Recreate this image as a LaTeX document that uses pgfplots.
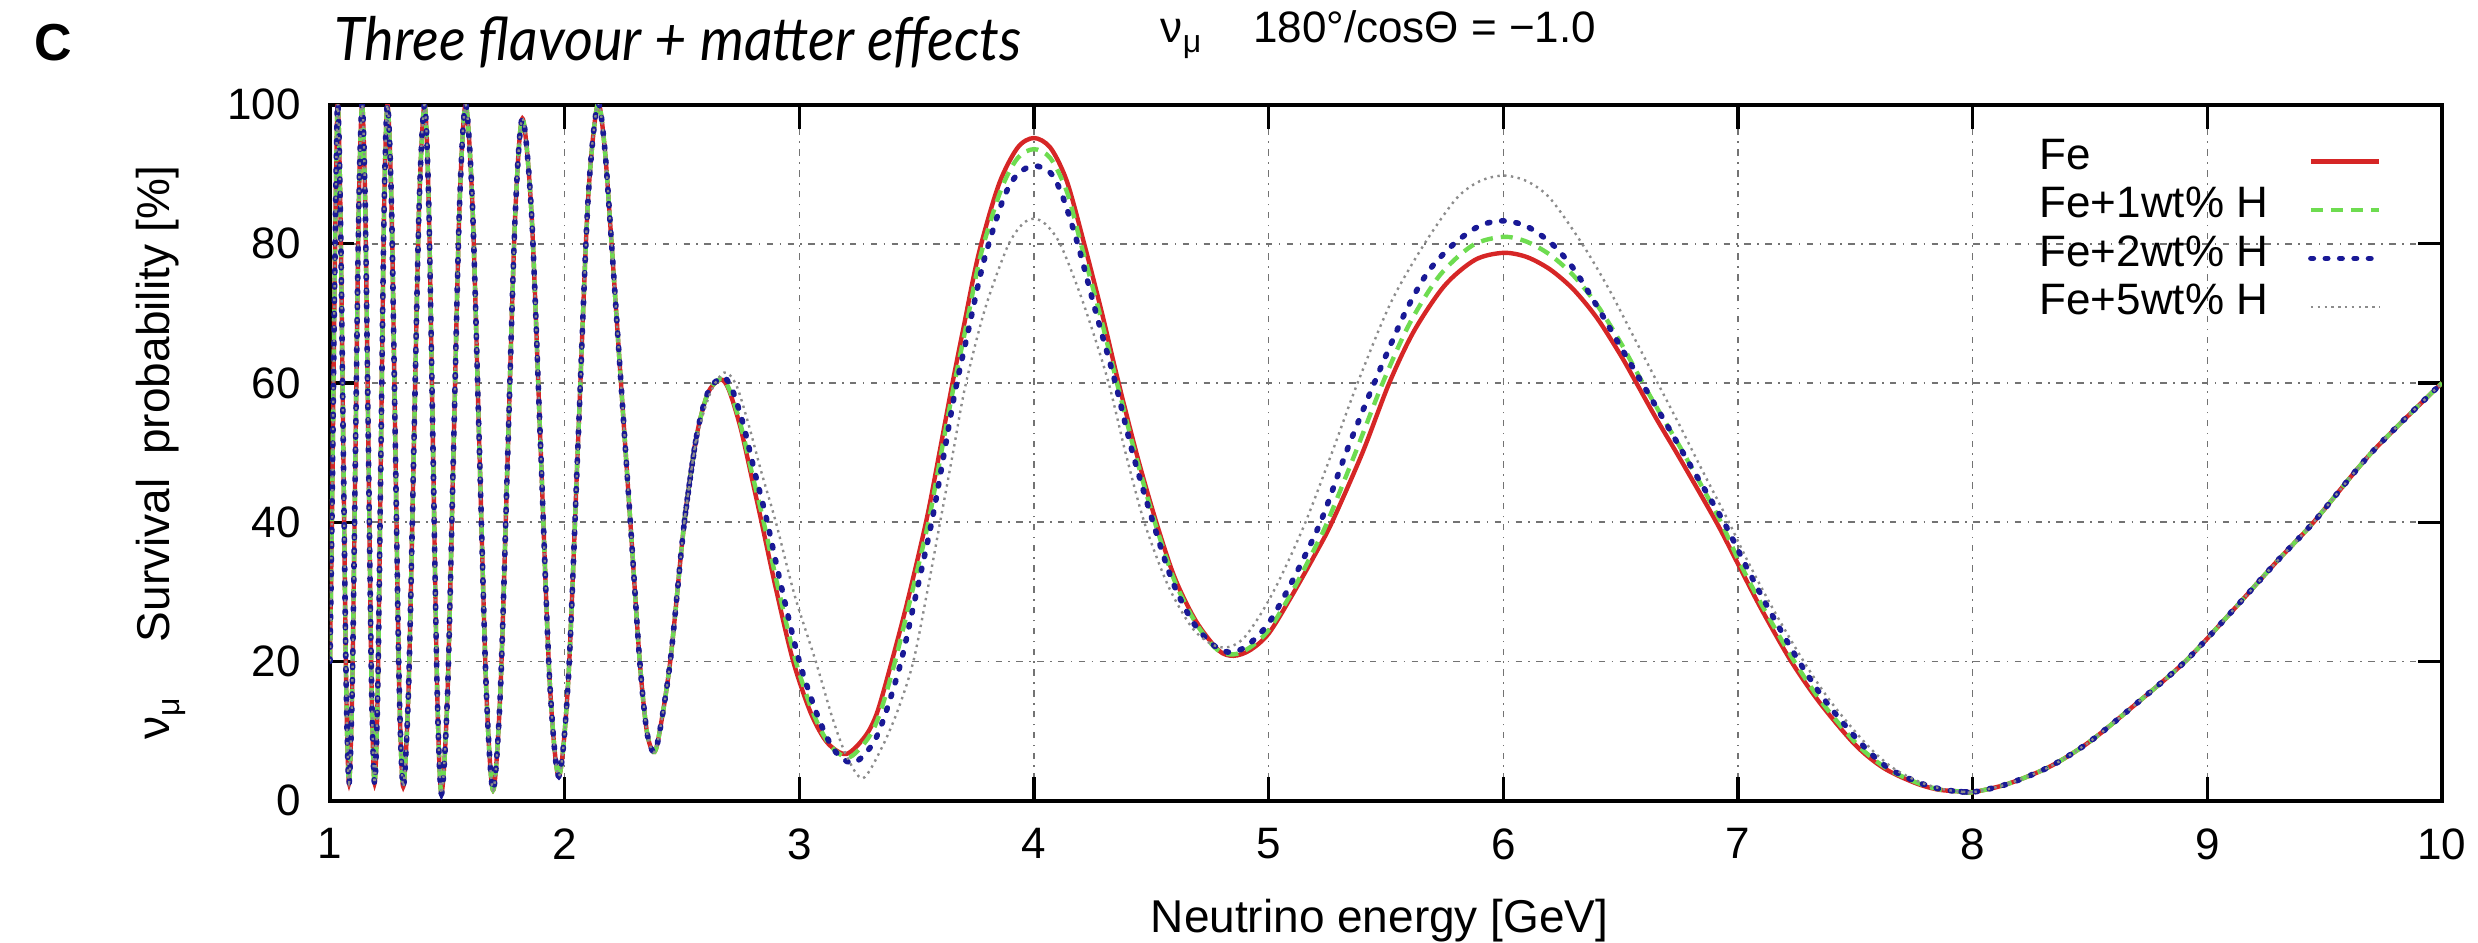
\documentclass[border=0pt]{standalone}
\usepackage{fontspec}
\setmainfont{Liberation Sans}
\newfontfamily\titlefont{Lato}
\usepackage{graphicx}
\usepackage{pgfplots}
\usepackage{pgfplotstable}
\pgfplotsset{compat=1.18}

\definecolor{cfe}{RGB}{214,38,38}
\definecolor{cone}{RGB}{110,220,80}
\definecolor{ctwo}{RGB}{25,25,150}
\definecolor{cfive}{RGB}{140,140,140}

% fast oscillations, all four curves coincide here
\pgfplotstableread{
E P
1.000 20
1.010 45
1.020 75
1.032 100
1.044 85.8
1.0565 51.3
1.069 16.7
1.081 2.5
1.095 16.7
1.109 51.3
1.123 85.8
1.137 100
1.150 85.8
1.1635 51.3
1.177 16.7
1.190 2.5
1.204 16.7
1.2175 51.3
1.231 85.8
1.245 100
1.262 85.7
1.2785 51
1.295 16.3
1.312 2
1.335 16.3
1.3575 51
1.380 85.7
1.403 100
1.421 85.5
1.439 50.5
1.457 15.5
1.475 1
1.501 15.5
1.5265 50.5
1.552 85.5
1.578 100
1.607 85.6
1.6365 50.8
1.666 15.9
1.695 1.5
1.726 15.6
1.7575 49.8
1.789 83.9
1.820 98
1.859 84.2
1.8975 50.8
1.936 17.3
1.975 3.5
2.016 17.6
2.0575 51.8
2.099 85.9
2.140 100
2.170 94
2.200 80
2.240 60
2.280 40
2.320 20
2.350 10
2.378 7
2.400 9
2.450 20
2.510 40
2.560 52
}\lowpart

% above 8 GeV the curves coincide again
\pgfplotstableread{
E P
7.950 1.3
8.000 1.2
8.150 2.4
8.330 4.9
8.500 8.5
8.700 14
8.906 20
9.100 27
9.300 34.5
9.453 40
9.700 50
10.00 60
}\highpart

\pgfplotstableread{
E P
2.510 40
2.560 52
2.610 58.5
2.665 60.5
2.700 59
2.750 53.5
2.800 46
2.836 40.5
2.900 30.5
2.974 20
3.050 12.5
3.120 8.3
3.200 6.7
3.280 9.2
3.330 12.5
3.386 19
3.460 28.5
3.543 40.5
3.600 50.5
3.650 59.5
3.700 68
3.764 78.5
3.850 88.5
3.930 93.8
4.000 95.2
4.070 93.8
4.140 89
4.214 80
4.290 70
4.357 60.5
4.440 49.5
4.521 40
4.600 32
4.690 25.8
4.786 21.6
4.850 20.8
4.920 21.6
5.000 24
5.100 29.5
5.200 35.5
5.270 40
5.400 50
5.514 60
5.620 67.5
5.750 74
5.880 77.7
6.000 78.7
6.100 78.1
6.200 76.3
6.300 73.4
6.400 69.3
6.500 64
6.564 60.2
6.650 55
6.750 49.3
6.908 40
7.000 34
7.100 27.5
7.227 20
7.350 14
7.500 8
7.620 4.7
7.750 2.6
7.850 1.6
7.950 1.3
8.000 1.2
}\midfe

\pgfplotstableread{
E P
2.510 40
2.560 52
2.610 58.5
2.665 60.6
2.700 59.2
2.750 54
2.800 46.8
2.845 40.5
2.910 30.5
2.985 20
3.060 12.5
3.130 8
3.210 6.2
3.290 8.8
3.340 12.2
3.400 19
3.470 28.5
3.550 40
3.605 50
3.655 59
3.710 68
3.774 78.5
3.860 87.8
3.930 92.3
4.000 93.6
4.070 92.3
4.140 87.5
4.200 80
4.280 70
4.350 60.5
4.430 50
4.515 40
4.600 31.5
4.690 25.5
4.780 21.7
4.850 21
4.920 22
5.000 24.5
5.100 30
5.200 36.5
5.250 40
5.370 50
5.486 60
5.600 68.5
5.730 75.5
5.870 79.8
6.000 81
6.100 80.3
6.200 78.4
6.300 75.4
6.400 71.2
6.500 65.8
6.586 60.5
6.650 56.7
6.770 49.8
6.920 40.5
7.010 34
7.110 27.6
7.240 20
7.360 14
7.510 8
7.630 4.7
7.760 2.6
7.860 1.6
7.950 1.3
8.000 1.2
}\midone

\pgfplotstableread{
E P
2.510 40
2.560 52
2.610 58.6
2.670 60.8
2.710 59.4
2.760 54.2
2.810 47.2
2.860 40.5
2.925 30.5
3.000 20
3.080 12
3.150 7.2
3.230 5.4
3.310 8
3.360 11.8
3.430 19.5
3.490 28.5
3.564 40
3.615 49.5
3.664 58.8
3.720 67.5
3.786 77.5
3.870 86.5
3.930 90
4.000 91.2
4.070 90.2
4.120 87
4.186 80
4.265 70
4.343 60.5
4.420 50
4.507 40
4.590 31.5
4.680 25.5
4.770 22.2
4.840 21.3
4.910 22.3
5.000 25.5
5.100 31.5
5.221 40
5.330 50
5.450 60
5.580 70
5.680 76
5.790 80
5.900 82.6
6.000 83.3
6.100 82.5
6.207 80
6.300 76.4
6.400 71
6.500 65.2
6.600 59.5
6.700 53.8
6.800 48
6.940 40
7.030 34
7.130 27.6
7.260 20
7.380 14
7.530 8
7.640 4.7
7.770 2.6
7.870 1.6
7.950 1.3
8.000 1.2
}\midtwo

\pgfplotstableread{
E P
2.510 40
2.560 51.5
2.620 58.5
2.680 61.5
2.730 59.8
2.780 54.5
2.840 47
2.900 40
2.980 29.5
3.070 20
3.140 12
3.200 6.5
3.270 3.2
3.350 7.5
3.420 13
3.486 20
3.545 30
3.600 40
3.655 50
3.707 59.5
3.790 70.5
3.886 79.5
3.950 82.8
4.000 83.6
4.050 82.8
4.114 79.8
4.210 71.5
4.314 60.5
4.390 50
4.470 40
4.570 31
4.670 25
4.750 22.6
4.820 22
4.890 23.2
4.970 27
5.050 32
5.157 40
5.270 50
5.379 60
5.520 71.5
5.664 80
5.800 86.5
5.900 89
6.000 89.8
6.100 89
6.200 86.5
6.336 80
6.450 73.5
6.550 67
6.650 60.5
6.750 54
6.850 47.3
6.957 40.3
7.040 34.5
7.150 27.5
7.280 20
7.400 14
7.550 8
7.660 4.7
7.780 2.6
7.880 1.6
7.950 1.3
8.000 1.2
}\midfive

\begin{document}
\begin{tikzpicture}[font=\fontsize{11}{13}\selectfont]
\path[use as bounding box] (0,0) rectangle (619.5pt,235.75pt);
\begin{axis}[
    at={(82.5pt,35.6pt)}, anchor=south west,
    scale only axis,
    width=528pt, height=174pt,
    xmin=1, xmax=10, ymin=0, ymax=100,
    xtick={1,2,...,10}, ytick={0,20,...,100},
    xtick pos=both, ytick pos=both,
    xticklabel pos=lower, yticklabel pos=left,
    tick align=inside,
    major tick length=6pt,
    tick style={black, line width=0.8pt},
    axis line style={black, line width=1pt},
    grid=major,
    major grid style={black!55, line width=0.4pt,
        dash pattern=on 1.6pt off 1.6pt on 0.4pt off 1.6pt},
    /pgf/number format/assume math mode=true,
    ticklabel style={font=\fontsize{11}{13}\selectfont},
    yticklabel style={xshift=-3.8pt},
    xticklabel style={yshift=-3.4pt},
    xlabel={Neutrino energy [GeV]},
    xlabel style={at={(axis description cs:0.497,-0.189)}, anchor=base,
        font=\fontsize{11.5}{13}\selectfont},
    ylabel={ν\raisebox{-0.4ex}{\fontsize{8}{9}\selectfont μ}\hspace{14pt}Survival\hspace{6pt}probability [\%]},
    ylabel style={at={(axis description cs:-0.076,0.50)}, anchor=base,
        font=\fontsize{11.5}{13}\selectfont},
    legend plot pos=right,
    legend cell align=left,
    legend style={at={(axis description cs:0.972,0.954)}, anchor=north east,
        draw=none, fill=none, inner sep=0pt, row sep=0pt,
        nodes={inner sep=0pt, text height=8pt, text depth=4.1pt},
        font=\fontsize{11}{13}\selectfont,
        /tikz/every odd column/.append style={column sep=10pt}},
    every axis plot/.append style={smooth},
]
% Fe
\addplot[cfe, line width=1.1pt, forget plot] table {\lowpart};
\addplot[cfe, line width=1.1pt] table {\midfe};
\addlegendentry{Fe}
\addplot[cfe, line width=1.1pt, forget plot] table {\highpart};
% Fe + 1 wt% H
\addplot[cone, line width=1.1pt, dash pattern=on 3pt off 2pt, forget plot] table {\lowpart};
\addplot[cone, line width=1.1pt, dash pattern=on 3pt off 2pt] table {\midone};
\addlegendentry{Fe+1wt\% H}
\addplot[cone, line width=1.1pt, dash pattern=on 3pt off 2pt, forget plot] table {\highpart};
% Fe + 2 wt% H
\addplot[ctwo, line width=1.4pt, line cap=round, dash pattern=on 0.6pt off 3pt, forget plot] table {\lowpart};
\addplot[ctwo, line width=1.4pt, line cap=round, dash pattern=on 0.6pt off 3pt] table {\midtwo};
\addlegendentry{Fe+2wt\% H}
\addplot[ctwo, line width=1.4pt, line cap=round, dash pattern=on 0.6pt off 3pt, forget plot] table {\highpart};
% Fe + 5 wt% H
\addplot[cfive, line width=0.6pt, dash pattern=on 0.6pt off 1.1pt, forget plot] table {\lowpart};
\addplot[cfive, line width=0.6pt, dash pattern=on 0.6pt off 1.1pt] table {\midfive};
\addlegendentry{Fe+5wt\% H}
\addplot[cfive, line width=0.6pt, dash pattern=on 0.6pt off 1.1pt, forget plot] table {\highpart};
\end{axis}
\node[anchor=base west, font=\fontsize{13}{15}\bfseries] at (5pt,220.5pt) {C};
\node[anchor=base west, inner sep=0pt] at (83.5pt,220.5pt)
    {\scalebox{0.93}[1]{\titlefont\itshape\fontsize{15}{18}\selectfont Three flavour + matter effects}};
\node[anchor=base west, inner sep=0pt, font=\fontsize{11}{13}\selectfont] at (290pt,225pt)
    {ν\raisebox{-0.4ex}{\fontsize{8}{9}\selectfont μ}\hspace{13pt}180°/cosΘ = −1.0};
\end{tikzpicture}
\end{document}
